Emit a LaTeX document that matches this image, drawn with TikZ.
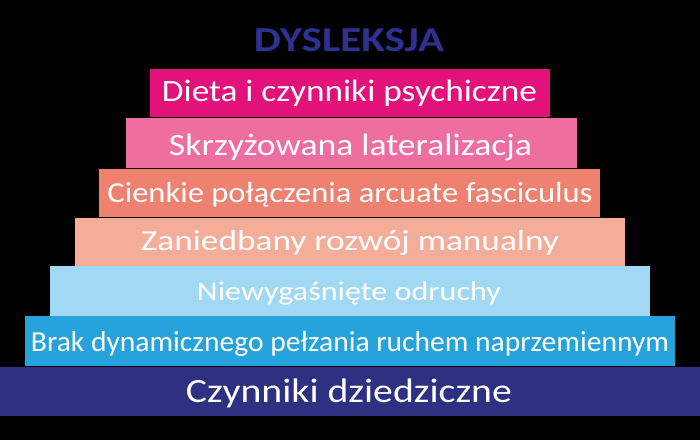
\documentclass[tikz,border=0pt]{standalone}
\usepackage{graphicx}
\usepackage{fontspec}
\setmainfont{Carlito}
\definecolor{bgblack}{HTML}{000000}
\definecolor{titleblue}{HTML}{2E3192}
\definecolor{cA}{HTML}{E2127A}
\definecolor{cB}{HTML}{EE6EA0}
\definecolor{cC}{HTML}{EE8170}
\definecolor{cD}{HTML}{F4AD98}
\definecolor{cE}{HTML}{A1D9F5}
\definecolor{cF}{HTML}{27A3DB}
\definecolor{cG}{HTML}{2E3181}
\newcommand{\fitw}[2]{\resizebox{#1pt}{\height}{#2}}
\tikzset{
  bar/.style={fill=#1, draw=none},
  bartext/.style={text=white, anchor=base, inner sep=0pt, font=\fontsize{#1}{#1}\selectfont},
}
\begin{document}
\begin{tikzpicture}[x=1pt,y=-1pt]
\fill[bgblack] (0,0) rectangle (700,440);
\useasboundingbox (0,0) rectangle (700,440);
\node[anchor=base, inner sep=0pt, text=titleblue, font=\fontsize{35}{35}\selectfont\bfseries] (title) at (349,51.7) {\fitw{190}{DYSLEKSJA}};
\fill[bar=cA] (150,69) rectangle (550,116.5);
\fill[bar=cB] (126,118) rectangle (577,167.5);
\fill[bar=cC] (99,168.5) rectangle (600,217);
\fill[bar=cD] (75,218) rectangle (625,265.5);
\fill[bar=cE] (50,266) rectangle (650,315.5);
\fill[bar=cF] (25,316.3) rectangle (675,366.2);
\fill[bar=cG] (0,367) rectangle (700,416);
\node[bartext=31] (t1) at (349.5,101.5) {\fitw{375}{Dieta i czynniki psychiczne}};
\node[bartext=31] (t2) at (350.5,155.5) {\fitw{363}{Skrzyżowana lateralizacja}};
\node[bartext=29] (t3) at (350,202.7) {\fitw{485}{Cienkie połączenia arcuate fasciculus}};
\node[bartext=29] (t4) at (350,250) {\fitw{418}{Zaniedbany rozwój manualny}};
\node[bartext=27] (t5) at (349,300.5) {\fitw{304}{Niewygaśnięte odruchy}};
\node[bartext=29] (t6) at (350,351.7) {\fitw{638}{Brak dynamicznego pełzania ruchem naprzemiennym}};
\node[bartext=34] (t7) at (349,402.5) {\fitw{326}{Czynniki dziedziczne}};
\end{tikzpicture}
\end{document}
